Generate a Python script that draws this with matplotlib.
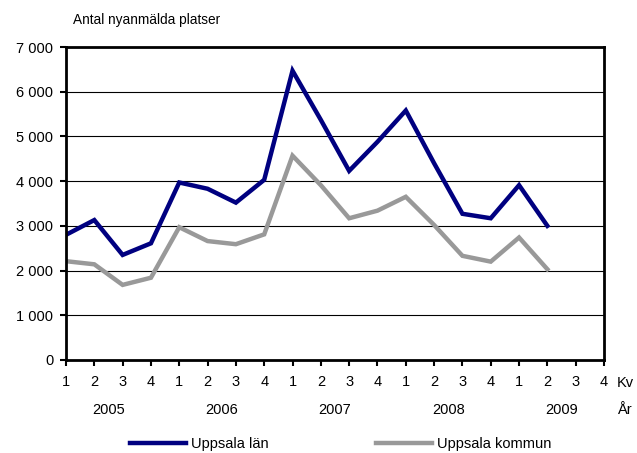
#!/usr/bin/env python3

from matplotlib import pyplot as plt
from matplotlib import ticker
import numpy as np

plt.rcParams['font.family'] = ['Liberation Sans', 'DejaVu Sans']

quarters = ['1', '2', '3', '4'] * 5
years = ['2005', '2006', '2007', '2008', '2009']
lan = [2800, 3130, 2350, 2610, 3970, 3830, 3520, 4030, 6470, 5370, 4230,
       4880, 5580, 4400, 3270, 3170, 3910, 3000]
kommun = [2210, 2140, 1680, 1840, 2970, 2660, 2590, 2810, 4570, 3910, 3170,
          3340, 3650, 3020, 2330, 2200, 2740, 2030]

fs = 10.5

fig = plt.figure(figsize=(6.37, 4.53), dpi=100)
ax = fig.add_axes([0.1036, 0.2053, 0.8446, 0.6909])

x = np.arange(len(lan))
ax.plot(x, lan, color='#000080', lw=3.2, label='Uppsala län', solid_joinstyle='miter')
ax.plot(x, kommun, color='#999999', lw=3.2, label='Uppsala kommun', solid_joinstyle='miter')

ax.set_xlim(0, len(quarters) - 1)
ax.set_ylim(0, 7000)
ax.set_yticks(np.arange(0, 7001, 1000))
ax.yaxis.set_major_formatter(ticker.FuncFormatter(lambda v, p: f'{v:,.0f}'.replace(',', ' ')))
ax.set_xticks(np.arange(len(quarters)), quarters)
ax.grid(axis='y', color='black', lw=0.8)
ax.set_axisbelow(True)

for s in ax.spines.values():
    s.set_linewidth(2)
    s.set_color('black')

ax.tick_params(axis='y', length=4, width=1.5, pad=5, labelsize=fs)
ax.tick_params(axis='x', length=4, width=1.5, pad=7, labelsize=fs)

# år under kvartalen
trans = ax.get_xaxis_transform()
for i, yr in enumerate(years):
    ax.text(1.5 + 4 * i, -0.16, yr, transform=trans, ha='center', va='center', fontsize=fs)
ax.text(19.45, -0.0735, 'Kv', transform=trans, ha='left', va='center', fontsize=fs)
ax.text(19.45, -0.16, 'År', transform=trans, ha='left', va='center', fontsize=fs)

fig.text(0.1146, 0.956, 'Antal nyanmälda platser', ha='left', va='center', fontsize=9.8)

fig.legend(loc='center', bbox_to_anchor=(0.535, 0.02), ncols=2, frameon=False,
           handlelength=3.8, handletextpad=0.35, columnspacing=7.4, fontsize=fs)

plt.savefig('out.png', dpi=100)
plt.close()
